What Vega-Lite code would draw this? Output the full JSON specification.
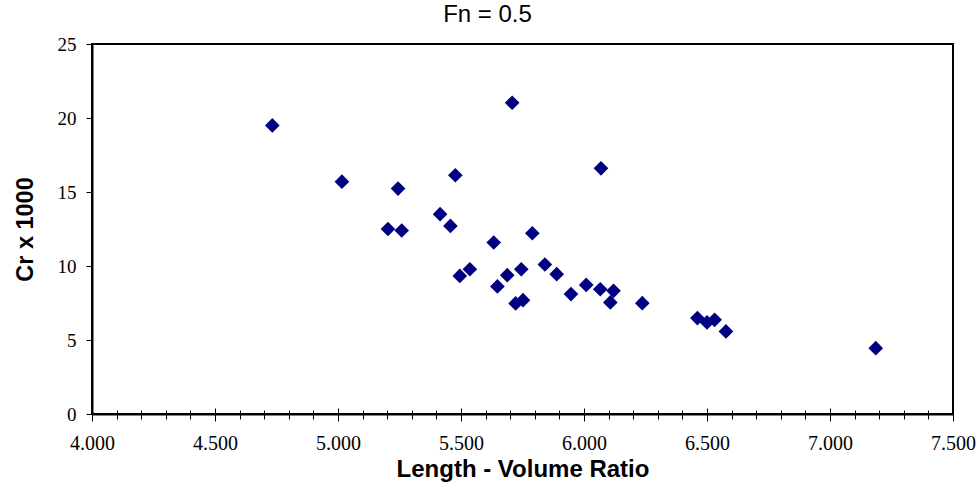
{
  "$schema": "https://vega.github.io/schema/vega-lite/v6.json",
  "width": 861,
  "height": 370,
  "autosize": {"type": "none"},
  "padding": {"left": 92, "top": 44, "right": 26, "bottom": 74},
  "background": "white",
  "title": {
    "text": "Fn = 0.5",
    "font": "Liberation Sans",
    "fontSize": 24,
    "fontWeight": "normal",
    "color": "black",
    "anchor": "middle",
    "frame": "group",
    "dx": -35,
    "offset": 8
  },
  "data": {
    "values": [
      {"lvr": 4.733, "cr": 19.5},
      {"lvr": 5.016, "cr": 15.70},
      {"lvr": 5.244, "cr": 15.23},
      {"lvr": 5.203, "cr": 12.50},
      {"lvr": 5.259, "cr": 12.40},
      {"lvr": 5.477, "cr": 16.13},
      {"lvr": 5.415, "cr": 13.50},
      {"lvr": 5.457, "cr": 12.71},
      {"lvr": 5.708, "cr": 21.03},
      {"lvr": 6.069, "cr": 16.60},
      {"lvr": 5.633, "cr": 11.59},
      {"lvr": 5.790, "cr": 12.21},
      {"lvr": 5.495, "cr": 9.33},
      {"lvr": 5.536, "cr": 9.78},
      {"lvr": 5.648, "cr": 8.62},
      {"lvr": 5.688, "cr": 9.38},
      {"lvr": 5.745, "cr": 9.78},
      {"lvr": 5.722, "cr": 7.47},
      {"lvr": 5.752, "cr": 7.69},
      {"lvr": 5.841, "cr": 10.10},
      {"lvr": 5.889, "cr": 9.45},
      {"lvr": 5.947, "cr": 8.10},
      {"lvr": 6.009, "cr": 8.72},
      {"lvr": 6.066, "cr": 8.43},
      {"lvr": 6.120, "cr": 8.32},
      {"lvr": 6.107, "cr": 7.54},
      {"lvr": 6.237, "cr": 7.49},
      {"lvr": 6.461, "cr": 6.48},
      {"lvr": 6.500, "cr": 6.19},
      {"lvr": 6.531, "cr": 6.36},
      {"lvr": 6.577, "cr": 5.58},
      {"lvr": 7.186, "cr": 4.45}
    ]
  },
  "encoding": {
    "y": {
      "field": "cr",
      "type": "quantitative",
      "scale": {"domain": [0, 25], "nice": false},
      "axis": {
        "title": "Cr x 1000",
        "values": [0, 5, 10, 15, 20, 25],
        "format": "d",
        "tickSize": 6,
        "labelPadding": 10,
        "labelFontSize": 19,
        "titleFontSize": 23.5,
        "titlePadding": 20,
        "grid": false
      }
    }
  },
  "layer": [
    {
      "mark": {"type": "point", "shape": "diamond", "filled": true, "color": "#000080", "opacity": 1, "size": 215},
      "encoding": {
        "x": {
          "field": "lvr",
          "type": "quantitative",
          "scale": {"domain": [4, 7.5], "nice": false, "zero": false},
          "axis": {
            "orient": "bottom",
            "title": "Length - Volume Ratio",
            "values": [4.0, 4.1, 4.2, 4.3, 4.4, 4.5, 4.6, 4.7, 4.8, 4.9, 5.0, 5.1, 5.2, 5.3, 5.4, 5.5, 5.6, 5.7, 5.8, 5.9, 6.0, 6.1, 6.2, 6.3, 6.4, 6.5, 6.6, 6.7, 6.8, 6.9, 7.0, 7.1, 7.2, 7.3, 7.4, 7.5],
            "labelExpr": "abs(datum.value*2 - round(datum.value*2)) < 0.001 ? format(datum.value, '.3f') : ''",
            "tickSize": {"condition": {"test": "abs(datum.value*2 - round(datum.value*2)) < 0.001", "value": 7}, "value": 5},
            "labelFlush": false,
            "labelOverlap": false,
            "labelFontSize": 20,
            "labelPadding": 12,
            "titleFontSize": 24,
            "titlePadding": 4,
            "grid": false
          }
        }
      }
    },
    {
      "mark": {"type": "point", "opacity": 0},
      "encoding": {
        "x": {
          "field": "lvr",
          "type": "quantitative",
          "axis": {
            "orient": "bottom",
            "title": null,
            "domain": false,
            "labels": false,
            "values": [4.0, 4.1, 4.2, 4.3, 4.4, 4.5, 4.6, 4.7, 4.8, 4.9, 5.0, 5.1, 5.2, 5.3, 5.4, 5.5, 5.6, 5.7, 5.8, 5.9, 6.0, 6.1, 6.2, 6.3, 6.4, 6.5, 6.6, 6.7, 6.8, 6.9, 7.0, 7.1, 7.2, 7.3, 7.4, 7.5],
            "tickSize": {"condition": {"test": "abs(datum.value*2 - round(datum.value*2)) < 0.001", "value": -6}, "value": -4},
            "grid": false
          }
        }
      }
    }
  ],
  "resolve": {"axis": {"x": "independent"}},
  "config": {
    "view": {"stroke": "black", "strokeWidth": 2},
    "axis": {
      "domainColor": "black",
      "domainWidth": 2,
      "tickColor": "black",
      "tickWidth": 1,
      "labelFont": "Liberation Serif",
      "labelColor": "black",
      "titleFont": "Liberation Sans",
      "titleFontWeight": "bold",
      "titleColor": "black"
    }
  }
}
